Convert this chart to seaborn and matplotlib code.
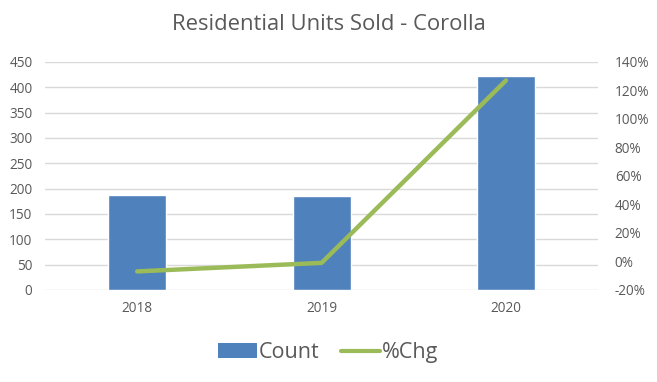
import matplotlib
matplotlib.use('Agg')
import matplotlib.pyplot as plt
import seaborn as sns
import pandas as pd
from matplotlib.ticker import FuncFormatter
from matplotlib.patches import Patch
from matplotlib.lines import Line2D

years = ['2018', '2019', '2020']
counts = [187, 185, 422]
pct_chg = [-7, -1, 127]

bar_color = '#4F81BD'
line_color = '#9BBB59'
text_color = '#595959'
grid_color = '#D9D9D9'

sns.set_theme(style='white')
plt.rcParams['font.family'] = ['Open Sans', 'DejaVu Sans']

df = pd.DataFrame({'Year': years, 'Count': counts, 'Chg': pct_chg})

fig = plt.figure(figsize=(6.57, 3.82), dpi=100)
ax = fig.add_axes([0.0685, 0.241, 0.842, 0.597])

sns.barplot(data=df, x='Year', y='Count', color=bar_color, width=0.315,
            saturation=1, ax=ax, zorder=3)
ax.set_ylim(0, 450)
ax.set_yticks(range(0, 451, 50))
ax.set_xlim(-0.5, 2.5)
ax.grid(axis='y', color=grid_color, linewidth=1, zorder=0)
ax.set_axisbelow(True)
for s in ax.spines.values():
    s.set_visible(False)
ax.set_xlabel('')
ax.set_ylabel('')
ax.tick_params(axis='both', length=0, labelsize=9.8, colors=text_color)
ax.tick_params(axis='x', pad=8)
ax.tick_params(axis='y', pad=9)

ax2 = ax.twinx()
sns.lineplot(data=df, x='Year', y='Chg', color=line_color, linewidth=3.2,
             ax=ax2, zorder=4)
ax2.set_ylim(-20, 140)
ax2.set_yticks(range(-20, 141, 20))
ax2.yaxis.set_major_formatter(FuncFormatter(lambda v, p: f'{int(v)}%'))
for s in ax2.spines.values():
    s.set_visible(False)
ax2.set_ylabel('')
ax2.set_xlabel('')
ax2.tick_params(axis='y', length=0, labelsize=9.8, colors=text_color, pad=12)
ax2.grid(False)

fig.text(0.5, 0.935, 'Residential Units Sold - Corolla', ha='center', va='center',
         fontsize=15.8, color=text_color)

handles = [Patch(facecolor=bar_color, edgecolor='none'),
           Line2D([0], [0], color=line_color, linewidth=3)]
leg = fig.legend(handles, ['Count', '%Chg'], loc='center', bbox_to_anchor=(0.5, 0.077),
                 ncol=2, frameon=False, fontsize=15.5, handlelength=1.8,
                 handletextpad=0.1, columnspacing=1.0)
for t in leg.get_texts():
    t.set_color(text_color)

fig.savefig('out.png', dpi=100)
